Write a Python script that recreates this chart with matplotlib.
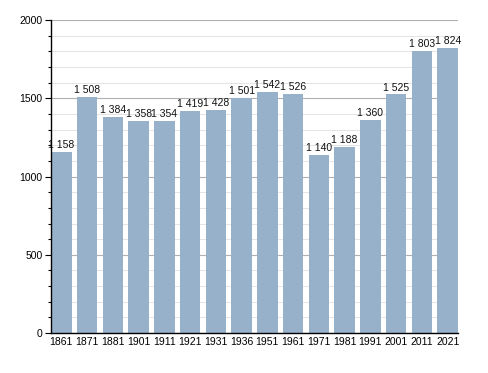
import numpy as np
import matplotlib
matplotlib.use('Agg')
import matplotlib.pyplot as plt
from matplotlib.ticker import MultipleLocator

plt.rcParams['font.family'] = ['Liberation Sans', 'DejaVu Sans']

years = ['1861', '1871', '1881', '1901', '1911', '1921', '1931', '1936',
         '1951', '1961', '1971', '1981', '1991', '2001', '2011', '2021']
population = [1158, 1508, 1384, 1358, 1354, 1419, 1428, 1501,
              1542, 1526, 1140, 1188, 1360, 1525, 1803, 1824]

BAR_COLOR = '#98b1cb'
WIDTH = 0.8

fig = plt.figure(figsize=(4.88, 3.73), dpi=100)
ax = fig.add_axes([0.1045, 0.107, 0.834, 0.839])

x = np.arange(len(years))
ax.bar(x, population, width=WIDTH, color=BAR_COLOR, zorder=3)

for xi, v in zip(x, population):
    label = f'{v:,}'.replace(',', ' ')
    ax.text(xi, v + 12, label, ha='center', va='bottom', fontsize=7.5,
            color='#111111', zorder=4)

ax.set_xlim(-WIDTH / 2, len(years) - 1 + WIDTH / 2)
ax.set_ylim(0, 2000)
ax.set_xticks(x)
ax.set_xticklabels(years, fontsize=7.5)
ax.yaxis.set_major_locator(MultipleLocator(500))
ax.yaxis.set_minor_locator(MultipleLocator(100))
ax.tick_params(axis='y', which='major', labelsize=7.5, length=4, width=0.8, pad=2)
ax.tick_params(axis='y', which='minor', length=2.5, width=0.8)
ax.tick_params(axis='x', length=0, pad=3)

ax.grid(axis='y', which='major', color='#b0b0b0', linewidth=0.8, zorder=0)
ax.grid(axis='y', which='minor', color='#e4e4e4', linewidth=0.7, zorder=0)

for side in ['top', 'right']:
    ax.spines[side].set_visible(False)
ax.spines['left'].set_linewidth(1.0)
ax.spines['bottom'].set_linewidth(1.0)
ax.spines['left'].set_zorder(5)
ax.spines['bottom'].set_zorder(5)

fig.savefig('out.png', dpi=100)
